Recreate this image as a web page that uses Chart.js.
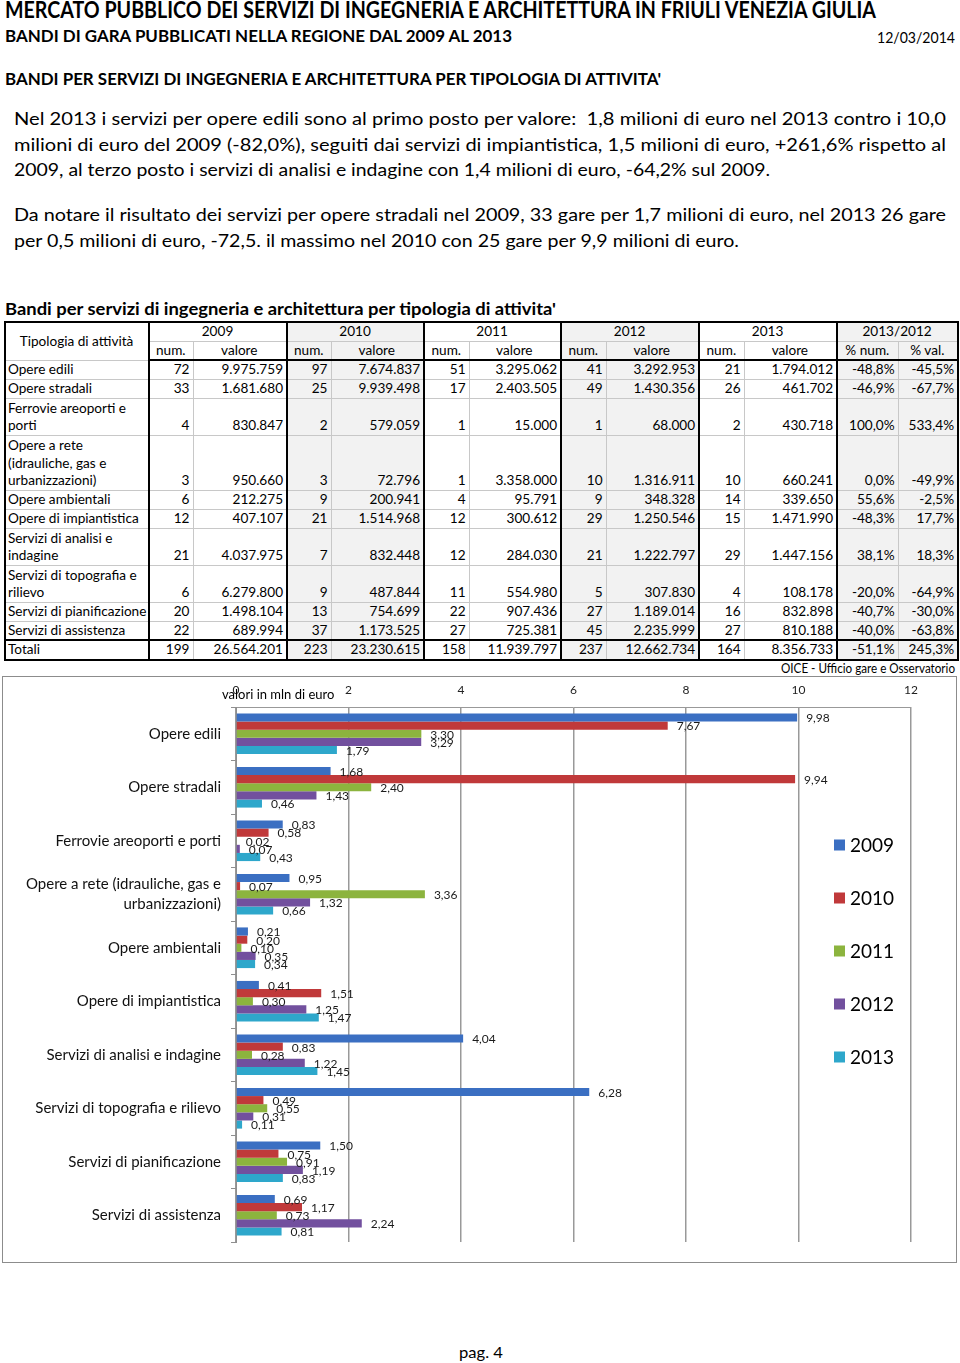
<!DOCTYPE html>
<html>
<head>
<meta charset="utf-8">
<script src="https://cdn.jsdelivr.net/npm/chart.js@4.4.1/dist/chart.umd.min.js"></script>
<style>
body { margin: 0; background: #fff; color: #000; font-family: Lato, "Open Sans", sans-serif; }
#page { position: relative; width: 960px; height: 1363px; overflow: hidden; }
.t { position: absolute; white-space: nowrap; transform-origin: 0 50%; line-height: 24px; height: 24px; }
.b { font-weight: bold; }
#tbl { position: absolute; left: 4px; top: 321px; width: 953px; border-collapse: collapse; table-layout: fixed;
       font: 13.6px Lato, sans-serif; border: 2px solid #000; }
#tbl td, #tbl th { padding: 0 3px 0 2px; line-height: 17.6px; border: 1px solid #c8c8c8; font-weight: normal;
       white-space: nowrap; vertical-align: bottom; text-align: right; overflow: hidden; }
#tbl th { text-align: center; vertical-align: middle; }
#tbl td.n { text-align: left; }
#tbl .tk { border-right: 2px solid #000; }
#tbl .g { background: #f2f2f2; }
#tbl tr.hb th { border-bottom: 2px solid #000; }
#tbl tr.tot td { border-top: 2px solid #000; }
#chartBox { position: absolute; left: 2px; top: 676px; width: 953px; height: 585px; border: 1px solid #8c8c8c; }
</style>
</head>
<body>
<div id="page">
  <div class="t b" data-w="871" style="left:5px;top:-2px;font-size:22px">MERCATO PUBBLICO DEI SERVIZI DI INGEGNERIA E ARCHITETTURA IN FRIULI VENEZIA GIULIA</div>
  <div class="t b" data-w="507" style="left:5px;top:24px;font-size:17px">BANDI DI GARA PUBBLICATI NELLA REGIONE DAL 2009 AL 2013</div>
  <div class="t" data-w="78" style="left:877px;top:25px;font-size:16px">12/03/2014</div>
  <div class="t b" data-w="656" style="left:5px;top:67px;font-size:17px">BANDI PER SERVIZI DI INGEGNERIA E ARCHITETTURA PER TIPOLOGIA DI ATTIVITA'</div>

  <div class="t" data-w="932" style="left:14px;top:107px;font-size:17.5px">Nel 2013 i servizi per opere edili sono al primo posto per valore:&nbsp; 1,8 milioni di euro nel 2013 contro i 10,0</div>
  <div class="t" data-w="932" style="left:14px;top:133px;font-size:17.5px">milioni di euro del 2009 (-82,0%), seguiti dai servizi di impiantistica, 1,5 milioni di euro, +261,6% rispetto al</div>
  <div class="t" data-w="756" style="left:14px;top:158px;font-size:17.5px">2009, al terzo posto i servizi di analisi e indagine con 1,4 milioni di euro, -64,2% sul 2009.</div>
  <div class="t" data-w="932" style="left:14px;top:203px;font-size:17.5px">Da notare il risultato dei servizi per opere stradali nel 2009, 33 gare per 1,7 milioni di euro, nel 2013 26 gare</div>
  <div class="t" data-w="725" style="left:14px;top:229px;font-size:17.5px">per 0,5 milioni di euro, -72,5. il massimo nel 2010 con 25 gare per 9,9 milioni di euro.</div>

  <div class="t b" data-w="551" style="left:5px;top:297px;font-size:17px">Bandi per servizi di ingegneria e architettura per tipologia di attivita'</div>
  <table id="tbl"></table>
  <div class="t" data-w="174" style="left:781px;top:656px;font-size:13px">OICE - Ufficio gare e Osservatorio</div>

  <div id="chartBox"><canvas id="chart"></canvas></div>

  <div class="t" data-w="44" style="left:459px;top:1340px;font-size:16px">pag. 4</div>
</div>

<script>
// categorie (grafico)
const categories = ['Opere edili', 'Opere stradali', 'Ferrovie areoporti e porti',
    ['Opere a rete (idrauliche, gas e', 'urbanizzazioni)'], 'Opere ambientali', 'Opere di impiantistica',
    'Servizi di analisi e indagine', 'Servizi di topografia e rilievo', 'Servizi di pianificazione',
    'Servizi di assistenza'];
// categorie (tabella, con gli a capo)
const tableLabels = ['Opere edili', 'Opere stradali', 'Ferrovie areoporti e<br>porti',
    'Opere a rete<br>(idrauliche, gas e<br>urbanizzazioni)', 'Opere ambientali', 'Opere di impiantistica',
    'Servizi di analisi e<br>indagine', 'Servizi di topografia e<br>rilievo', 'Servizi di pianificazione',
    'Servizi di assistenza'];
const years = ['2009', '2010', '2011', '2012', '2013'];

const num2009 = [72, 33, 4, 3, 6, 12, 21, 6, 20, 22];
const val2009 = [9975759, 1681680, 830847, 950660, 212275, 407107, 4037975, 6279800, 1498104, 689994];
const num2010 = [97, 25, 2, 3, 9, 21, 7, 9, 13, 37];
const val2010 = [7674837, 9939498, 579059, 72796, 200941, 1514968, 832448, 487844, 754699, 1173525];
const num2011 = [51, 17, 1, 1, 4, 12, 12, 11, 22, 27];
const val2011 = [3295062, 2403505, 15000, 3358000, 95791, 300612, 284030, 554980, 907436, 725381];
const num2012 = [41, 49, 1, 10, 9, 29, 21, 5, 27, 45];
const val2012 = [3292953, 1430356, 68000, 1316911, 348328, 1250546, 1222797, 307830, 1189014, 2235999];
const num2013 = [21, 26, 2, 10, 14, 15, 29, 4, 16, 27];
const val2013 = [1794012, 461702, 430718, 660241, 339650, 1471990, 1447156, 108178, 832898, 810188];
const pctNum = [-48.8, -46.9, 100.0, 0.0, 55.6, -48.3, 38.1, -20.0, -40.7, -40.0];
const pctVal = [-45.5, -67.7, 533.4, -49.9, -2.5, 17.7, 18.3, -64.9, -30.0, -63.8];

const totNum = [199, 223, 158, 237, 164];
const totVal = [26564201, 23230615, 11939797, 12662734, 8356733];
const totPct = [-51.1, 245.3];

const nums = [num2009, num2010, num2011, num2012, num2013];
const vals = [val2009, val2010, val2011, val2012, val2013];
const colors = ['#3b6fc2', '#c0393a', '#8cb43e', '#72509e', '#2ea7cb'];

function fmtInt(n) { return String(n).replace(/\B(?=(\d{3})+(?!\d))/g, '.'); }
function fmtPct(p) { return p.toFixed(1).replace('.', ',') + '%'; }
// milioni con due decimali, arrotondamento come Excel
function fmtMln(euro) { return (Math.round(euro / 1e4) / 100).toFixed(2).replace('.', ','); }

// ---- tabella ----
function build_table() {
    const colW = [144, 44, 94, 44, 93, 45, 92, 45, 93, 45, 93, 61, 60];
    const rowH = [19, 19, 37, 55, 19, 19, 37, 37, 19, 19];
    const grey = i => (i == 1 || i == 3) ? ' g' : '';
    let h = '<colgroup>' + colW.map(w => `<col style="width:${w}px">`).join('') + '</colgroup>';
    h += '<tr style="height:17px"><th rowspan="2" class="tk">Tipologia di attività</th>';
    years.forEach((y, i) => { h += `<th colspan="2" class="tk${grey(i)}">${y}</th>`; });
    h += '<th colspan="2" class="g">2013/2012</th></tr>';
    h += '<tr class="hb" style="height:17px">';
    years.forEach((y, i) => { h += `<th class="${grey(i)}">num.</th><th class="tk${grey(i)}">valore</th>`; });
    h += '<th class="g">% num.</th><th class="g">% val.</th></tr>';
    tableLabels.forEach((lab, r) => {
        h += `<tr style="height:${rowH[r]}px"><td class="n tk">${lab}</td>`;
        years.forEach((y, i) => {
            h += `<td class="${grey(i)}">${nums[i][r]}</td><td class="tk${grey(i)}">${fmtInt(vals[i][r])}</td>`;
        });
        h += `<td class="g">${fmtPct(pctNum[r])}</td><td class="g">${fmtPct(pctVal[r])}</td></tr>`;
    });
    h += '<tr class="tot" style="height:19px"><td class="n tk">Totali</td>';
    years.forEach((y, i) => {
        h += `<td class="${grey(i)}">${totNum[i]}</td><td class="tk${grey(i)}">${fmtInt(totVal[i])}</td>`;
    });
    h += `<td class="g">${fmtPct(totPct[0])}</td><td class="g">${fmtPct(totPct[1])}</td></tr>`;
    document.getElementById('tbl').innerHTML = h;
}

// adatta le righe di testo alla larghezza del riferimento
function fit_texts() {
    document.querySelectorAll('.t').forEach(el => {
        el.style.transform = 'none';
        const w = el.getBoundingClientRect().width;
        el.style.transform = `scaleX(${(+el.dataset.w) / w})`;
    });
}

// ---- grafico ----
const barLabels = {
    id: 'barLabels',
    afterDatasetsDraw(chart) {
        const ctx = chart.ctx;
        ctx.save();
        ctx.font = '12px Lato';
        ctx.fillStyle = '#1a1a1a';
        ctx.textAlign = 'left';
        ctx.textBaseline = 'middle';
        chart.data.datasets.forEach((ds, i) => {
            chart.getDatasetMeta(i).data.forEach((bar, j) => {
                ctx.fillText(fmtMln(vals[i][j]), bar.x + 9, bar.y + 1);
            });
        });
        ctx.restore();
    }
};

const extras = {
    id: 'extras',
    afterDraw(chart) {
        const { ctx, chartArea } = chart;
        ctx.save();
        ctx.textAlign = 'left';
        ctx.textBaseline = 'middle';
        ctx.font = '13px Lato';
        ctx.fillStyle = '#000';
        ctx.fillText('valori in mln di euro', chartArea.left - 14, chartArea.top - 12);
        // legenda
        ctx.font = '19px Lato';
        chart.data.datasets.forEach((ds, i) => {
            const y = chartArea.top + 138 + i * 53;
            ctx.fillStyle = ds.backgroundColor;
            ctx.fillRect(chartArea.left + 598, y - 5.5, 11, 11);
            ctx.fillStyle = '#000';
            ctx.fillText(ds.label, chartArea.left + 614, y + 1);
        });
        ctx.restore();
    }
};

function load_chart() {
    Chart.defaults.font.family = 'Lato';
    const datasets = years.map((y, i) => ({
        label: y,
        data: vals[i].map(v => v / 1e6),
        backgroundColor: colors[i],
        categoryPercentage: 0.76,
        barPercentage: 1.0
    }));
    new Chart(document.getElementById('chart').getContext('2d'), {
        type: 'bar',
        data: { labels: categories, datasets: datasets },
        options: {
            indexAxis: 'y',
            responsive: true,
            maintainAspectRatio: false,
            animation: false,
            layout: { padding: { left: 0, right: 45, top: 0, bottom: 13 } },
            plugins: { legend: { display: false }, tooltip: { enabled: false } },
            scales: {
                x: {
                    position: 'top', min: 0, max: 12,
                    ticks: { stepSize: 2, padding: 10, color: '#222', font: { size: 12 } },
                    grid: { display: true, drawOnChartArea: true, color: '#999999', lineWidth: 1.5, drawTicks: false },
                    border: { color: '#999999' },
                    afterFit(s) { s.height = 30; }
                },
                y: {
                    ticks: { padding: 10, color: '#111', font: { size: 15, lineHeight: 1.33 } },
                    grid: { drawOnChartArea: false, tickLength: 5, color: '#8f8f8f', offset: true },
                    border: { color: '#8f8f8f' },
                    afterFit(s) { s.width = 233; }
                }
            }
        },
        plugins: [barLabels, extras]
    });
}

build_table();
fit_texts();
load_chart();
if (document.fonts) document.fonts.ready.then(fit_texts);
</script>
</body>
</html>
